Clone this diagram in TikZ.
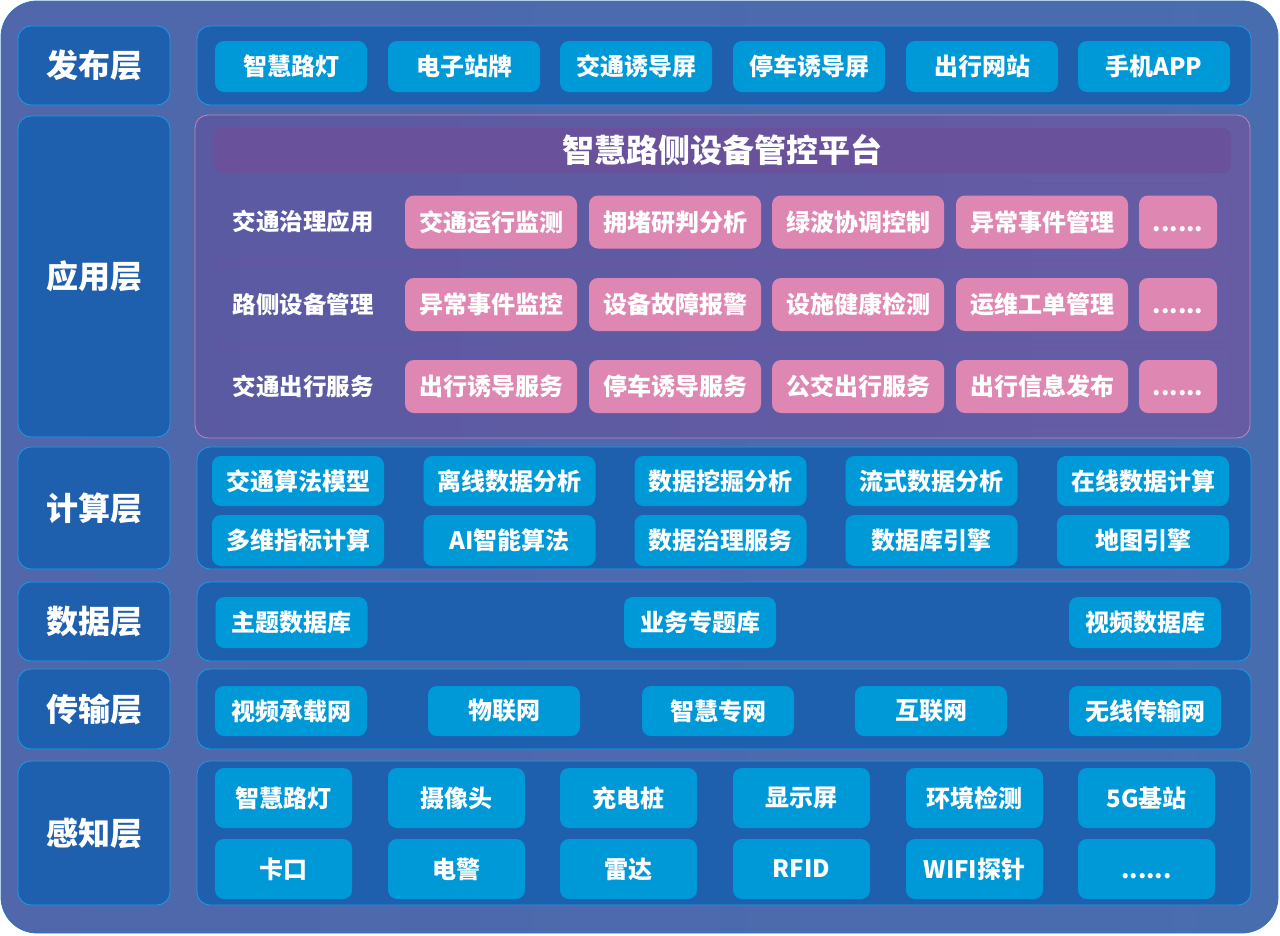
\documentclass[tikz,border=0pt]{standalone}
\usepackage{fontspec}
\setmainfont{Noto Sans CJK SC}
\definecolor{frame}{HTML}{4A6BAD}
\definecolor{frameleft}{HTML}{5067AB}
\definecolor{frameright}{HTML}{486DAF}
\definecolor{frameedge}{HTML}{2A78BE}
\definecolor{layer}{HTML}{1F60AE}
\definecolor{edge}{HTML}{1C9CE0}
\definecolor{item}{HTML}{0099D8}
\definecolor{app}{HTML}{5E5AA2}
\definecolor{appleft}{HTML}{5A5AA3}
\definecolor{appright}{HTML}{665CA4}
\definecolor{appedge}{HTML}{D47FB6}
\definecolor{titlebar}{HTML}{6A519C}
\definecolor{rowedge}{HTML}{74509E}
\definecolor{pink}{HTML}{DF87B3}
\newcommand\moredots{\vphantom{智}......}
\begin{document}
\begin{tikzpicture}[x=1pt, y=-1pt, line join=round, font=\bfseries, text=white,
 layerbox/.style={draw=edge, fill=layer, line width=.8pt, rounded corners=13pt, inner sep=0pt, minimum width=152pt, font=\bfseries\fontsize{32}{38}\selectfont},
 panel/.style={draw=edge, fill=layer, line width=.8pt, rounded corners=13pt, inner sep=0pt, minimum width=1054pt},
 item/.style={fill=item, rounded corners=9pt, inner sep=0pt, minimum width=152pt, minimum height=51pt, font=\bfseries\fontsize{24}{28}\selectfont},
 appitem/.style={item, fill=pink, minimum width=172pt, minimum height=53pt},
 approw/.style={draw=rowedge, line width=.5pt, rounded corners=9pt, minimum width=1017pt, minimum height=77pt, inner sep=0pt}]
 \useasboundingbox (0,0) rectangle (1280,935);
 \draw[frameedge, left color=frameleft, right color=frameright, line width=.8pt, rounded corners=36pt] (1,1) rectangle (1278,933);
 % layer labels
 \foreach \y/\h/\t/\n in {65.5/79/发布层/pub, 276.5/321/应用层/app, 508/122/计算层/comp, 621.5/79/数据层/data, 709/80/传输层/trans, 833/144/感知层/sense}
   \node[layerbox, minimum height=\h pt] (l\n) at (94,\y) {\t};
 % panels
 \node[panel, minimum height=79pt] (ppub) at (724,65.5) {};
 \node[panel, draw=appedge, left color=appleft, right color=appright, minimum width=1055pt, minimum height=323pt] (papp) at (722.5,276.5) {};
 \node[panel, minimum height=122pt] (pcomp) at (724,508) {};
 \node[panel, minimum height=79pt] (pdata) at (724,621.5) {};
 \node[panel, minimum height=80pt] (ptrans) at (724,709) {};
 \node[panel, minimum height=144pt] (psense) at (724,833) {};
 % publish
 \foreach \x/\t [count=\i] in {291/智慧路灯, 464/电子站牌, 636/交通诱导屏, 809/停车诱导屏, 982/出行网站, 1154/手机APP}
   \node[item] (pub\i) at (\x,66.5) {\t};
 % application
 \node[fill=titlebar, rounded corners=8pt, minimum width=1017pt, minimum height=45pt, inner sep=0pt, font=\bfseries\fontsize{32}{38}\selectfont] (title) at (722.5,150.5) {智慧路侧设备管控平台};
 \foreach \y/\t/\a/\b/\c/\d [count=\r] in {222/交通治理应用/交通运行监测/拥堵研判分析/绿波协调控制/异常事件管理, 304.5/路侧设备管理/异常事件监控/设备故障报警/设施健康检测/运维工单管理, 386.5/交通出行服务/出行诱导服务/停车诱导服务/公交出行服务/出行信息发布}{
   \node[approw] (row\r) at (721.5,\y) {};
   \node[font=\bfseries\fontsize{23.5}{27}\selectfont] (rowlab\r) at (303,\y) {\t};
   \node[appitem] (app\r a) at (491,\y) {\a};
   \node[appitem] (app\r b) at (675,\y) {\b};
   \node[appitem] (app\r c) at (858,\y) {\c};
   \node[appitem] (app\r d) at (1042,\y) {\d};
   \node[appitem, minimum width=78pt] (app\r e) at (1178,\y) {\moredots};
 }
 % computing
 \foreach \x/\t [count=\i] in {298/交通算法模型, 509.5/离线数据分析, 720.5/数据挖掘分析, 931.5/流式数据分析, 1143/在线数据计算}
   \node[item, minimum width=172pt, minimum height=50pt] (compa\i) at (\x,481) {\t};
 \foreach \x/\t [count=\i] in {298/多维指标计算, 509.5/AI智能算法, 720.5/数据治理服务, 931.5/数据库引擎, 1143/地图引擎}
   \node[item, minimum width=172pt, minimum height=51pt] (compb\i) at (\x,540.5) {\t};
 % data
 \foreach \x/\t [count=\i] in {291.5/主题数据库, 700/业务专题库, 1145/视频数据库}
   \node[item] (data\i) at (\x,622.5) {\t};
 % transport
 \foreach \x/\t [count=\i] in {291/视频承载网, 504/物联网, 718/智慧专网, 931/互联网, 1145/无线传输网}
   \node[item, minimum height=50pt] (trans\i) at (\x,711) {\t};
 % sensing
 \foreach \x/\t [count=\i] in {283.5/智慧路灯, 456.5/摄像头, 628.5/充电桩, 801.5/显示屏, 974.5/环境检测, 1146.5/5G基站}
   \node[item, minimum width=137pt, minimum height=60pt] (sensa\i) at (\x,798) {\t};
 \foreach \x/\t [count=\i] in {283.5/卡口, 456.5/电警, 628.5/雷达, 801.5/RFID, 974.5/WIFI探针, 1146.5/\moredots}
   \node[item, minimum width=137pt, minimum height=60pt] (sensb\i) at (\x,869) {\t};
\end{tikzpicture}
\end{document}
